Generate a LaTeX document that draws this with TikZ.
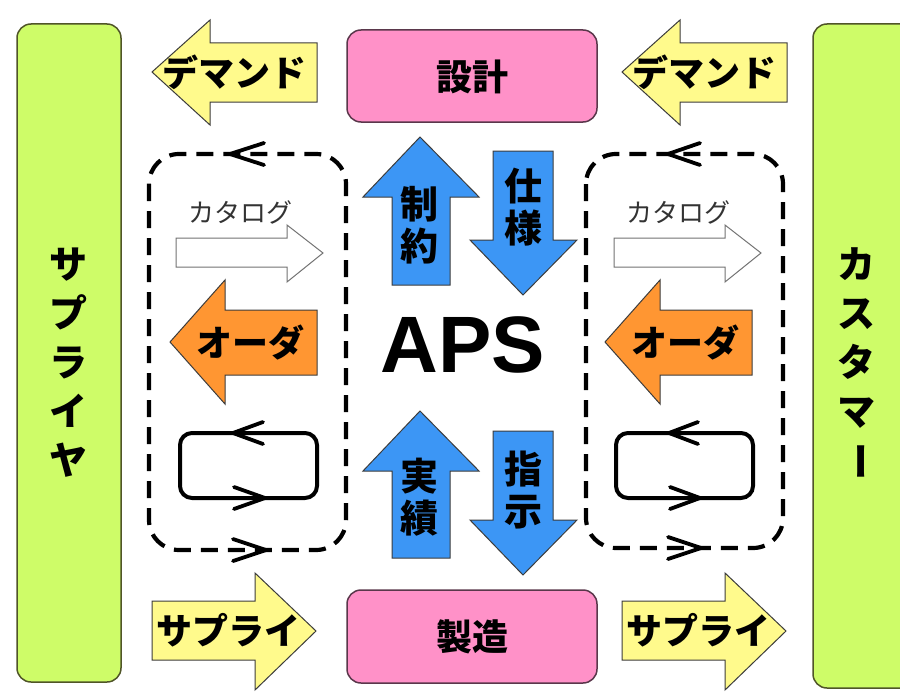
\documentclass[tikz,border=0pt]{standalone}
\usepackage{fontspec}
\newfontfamily\jp{Noto Sans CJK JP}
\newfontfamily\apsfont{Liberation Sans}
\definecolor{barfill}{RGB}{206,252,104}
\definecolor{barline}{RGB}{80,85,40}
\definecolor{pinkfill}{RGB}{255,145,200}
\definecolor{pinkline}{RGB}{90,55,75}
\definecolor{yelfill}{RGB}{255,250,140}
\definecolor{bluefill}{RGB}{60,150,245}
\definecolor{orfill}{RGB}{255,150,50}
\definecolor{arrline}{RGB}{60,60,60}
\begin{document}
\begin{tikzpicture}[x=1pt,y=-1pt,
  arr/.style={draw=arrline, line width=1pt, line join=miter},
  bar/.style={draw=barline, fill=barfill, line width=1.5pt, rounded corners=14pt},
  pinkbox/.style={draw=pinkline, fill=pinkfill, line width=1.5pt, rounded corners=14pt},
  dbox/.style={draw=black, line width=4.2pt, dash pattern=on 17pt off 10pt, rounded corners=30pt},
  loopbox/.style={draw=black, line width=4pt, rounded corners=12pt},
  chev/.style={draw=black, line width=3.8pt, line cap=round, line join=miter},
  lbl/.style={font=\jp\bfseries\fontsize{36}{36}\selectfont, inner sep=0pt},
  vlbl/.style={font=\jp\bfseries\fontsize{38}{42}\selectfont, inner sep=0pt, align=center},
  barlbl/.style={font=\jp\bfseries\fontsize{38}{49}\selectfont, inner sep=0pt, align=center},
  cat/.style={font=\jp\fontsize{26}{26}\selectfont, inner sep=0pt, text=black!80}]
\fill[white] (0,0) rectangle (900,693);
\useasboundingbox (0,0) rectangle (900,693);
\clip (0,0) rectangle (900,693);

% side bars
\path[bar] (17,24) rectangle (121,682);
\path[bar] (813,24) rectangle (930,688);
\node[barlbl] (sup) at (68,363) {サ\\プ\\ラ\\イ\\ヤ};
\node[barlbl] (cus) at (856,338) {カ\\ス\\タ\\マ};
\node[lbl, font=\jp\bfseries\fontsize{38}{38}\selectfont, rotate=-90] (cusbar) at (856,461) {ー};

% pink boxes
\path[pinkbox] (347,30) rectangle (597,122);
\node[lbl] (design) at (472,77) {設計};
\path[pinkbox] (347,590) rectangle (597,683);
\node[lbl] (make) at (472,637) {製造};

% demand arrows (yellow, left pointing)
\foreach \dx/\nm in {0/demL,470/demR}{
  \path[arr, fill=yelfill] (152+\dx,72) -- (210+\dx,20) -- (210+\dx,43) -- (317+\dx,43)
     -- (317+\dx,102) -- (210+\dx,102) -- (210+\dx,125) -- cycle;
  \node[lbl] (\nm) at (234+\dx,72) {デマンド};
}
% supply arrows (yellow, right pointing)
\foreach \dx/\nm in {0/supL,470/supR}{
  \path[arr, fill=yelfill] (152+\dx,601) -- (255+\dx,601) -- (255+\dx,573) -- (316+\dx,631)
     -- (255+\dx,690) -- (255+\dx,660) -- (152+\dx,660) -- cycle;
  \node[lbl] (\nm) at (228+\dx,630) {サプライ};
}

% dashed boxes
\path[dbox] (149,154) rectangle (346,550);
\path[dbox] (586,154) rectangle (783,548);
\draw[chev] (264,143) -- (230,154) -- (264,165);
\draw[chev] (233,539) -- (266,550) -- (233,561);
\draw[chev] (700,143) -- (668,154) -- (700,165);
\draw[chev] (668,537) -- (701,548) -- (668,559);

% catalog arrows
\foreach \dx/\nm in {0/catL,438/catR}{
  \path[arr, draw=black!55, fill=white] (176+\dx,238) -- (287+\dx,238) -- (287+\dx,225) -- (323+\dx,253)
     -- (287+\dx,282) -- (287+\dx,267) -- (176+\dx,267) -- cycle;
  \node[cat] (\nm) at (240+\dx,212) {カタログ};
}

% order arrows
\foreach \dx/\nm in {0/ordL,435/ordR}{
  \path[arr, fill=orfill] (170+\dx,342) -- (225+\dx,280) -- (225+\dx,310) -- (317+\dx,310)
     -- (317+\dx,375) -- (225+\dx,375) -- (225+\dx,404) -- cycle;
  \node[lbl] (\nm) at (250+\dx,343) {オーダ};
}

% loop boxes
\path[loopbox] (180,433) rectangle (317,498);
\draw[chev] (263,422) -- (233,433) -- (263,444);
\draw[chev] (234,487) -- (265,498) -- (234,509);
\path[loopbox] (616,433) rectangle (753,498);
\draw[chev] (698,422) -- (669,433) -- (698,444);
\draw[chev] (670,487) -- (700,498) -- (670,509);

% blue arrows
\path[arr, fill=bluefill] (420,137) -- (479,197) -- (450,197) -- (450,285) -- (392,285) -- (392,197) -- (363,197) -- cycle;
\node[vlbl] (cons) at (419,225) {制\\約};
\path[arr, fill=bluefill] (493,151) -- (553,151) -- (553,240) -- (577,240) -- (523,295) -- (470,240) -- (493,240) -- cycle;
\node[vlbl] (spec) at (523,207) {仕\\様};
\path[arr, fill=bluefill] (420,411) -- (479,471) -- (450,471) -- (450,558) -- (392,558) -- (392,471) -- (363,471) -- cycle;
\node[vlbl] (res) at (419,497) {実\\績};
\path[arr, fill=bluefill] (493,431) -- (553,431) -- (553,520) -- (577,520) -- (523,575) -- (470,520) -- (493,520) -- cycle;
\node[vlbl] (inst) at (523,490) {指\\示};

\node[font=\apsfont\bfseries\fontsize{80}{80}\selectfont, inner sep=0pt] (aps) at (463,345) {APS};
\end{tikzpicture}
\end{document}
